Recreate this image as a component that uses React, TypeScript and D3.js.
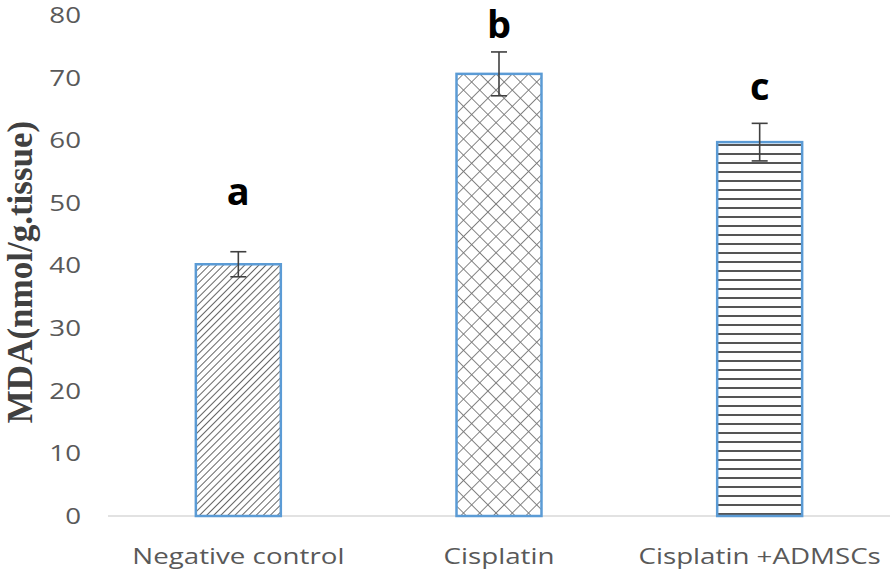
import React from "react";
import * as d3 from "d3";

const groups = ["Negative control", "Cisplatin", "Cisplatin +ADMSCs"];
const means = [40.2, 70.6, 59.7];
const errs = [2.0, 3.5, 3.0];
const letters = ["a", "b", "c"];
const letterAt = [49.7, 76.4, 66.4];
const patterns = ["diag", "cross", "horiz"];
const yTicks = [0, 10, 20, 30, 40, 50, 60, 70, 80];

const W = 896;
const H = 575;
const left = 108;
const right = 890;
const top = 15;
const bottom = 516;
const font = "Open Sans, sans-serif";

// the reference text is a bit stretched sideways
const Stretch = ({ x, y, anchor, children, ...rest }: any) => (
  <text transform={`translate(${x},${y}) scale(1.26,1)`} textAnchor={anchor} {...rest}>
    {children}
  </text>
);

export default function App() {
  const x = d3.scaleBand().domain(groups).range([left, right]).paddingInner(0.674).paddingOuter(0.337);
  const y = d3.scaleLinear().domain([0, 80]).range([bottom, top]);
  const bw = x.bandwidth();

  return (
    <svg width={W} height={H} style={{ position: "absolute", left: 0, top: 0 }}>
      <defs>
        <pattern id="diag" width="5" height="5" patternUnits="userSpaceOnUse" patternTransform="rotate(45)">
          <rect width="5" height="5" fill="#fff" />
          <line x1="0" y1="0" x2="0" y2="5" stroke="#666" strokeWidth="2" />
        </pattern>
        <pattern id="cross" width="11.5" height="11.5" patternUnits="userSpaceOnUse" patternTransform="rotate(45)">
          <rect width="11.5" height="11.5" fill="#fff" />
          <line x1="0" y1="0" x2="0" y2="11.5" stroke="#777" strokeWidth="1.8" />
          <line x1="0" y1="0" x2="11.5" y2="0" stroke="#777" strokeWidth="1.8" />
        </pattern>
        <pattern id="horiz" width="8" height="9" patternUnits="userSpaceOnUse">
          <rect width="8" height="9" fill="#fff" />
          <line x1="0" y1="1" x2="8" y2="1" stroke="#555" strokeWidth="2" />
        </pattern>
      </defs>
      <rect width={W} height={H} fill="#fff" />

      {yTicks.map(t => (
        <Stretch key={t} x={81} y={y(t)} anchor="end" dy="0.36em" fontFamily={font} fontSize={22} fill="#595959">
          {t}
        </Stretch>
      ))}

      <line x1={left} x2={right} y1={bottom} y2={bottom} stroke="#d9d9d9" strokeWidth={1.5} />

      {groups.map((g, i) => {
        const x0 = x(g) as number;
        const cx = x0 + bw / 2;
        return (
          <g key={g}>
            <rect x={x0} y={y(means[i])} width={bw} height={bottom - y(means[i])} fill={`url(#${patterns[i]})`} stroke="#5b9bd5" strokeWidth={2.5} />
            <line x1={cx} x2={cx} y1={y(means[i] + errs[i])} y2={y(means[i] - errs[i])} stroke="#404040" strokeWidth={1.6} />
            <line x1={cx - 8} x2={cx + 8} y1={y(means[i] + errs[i])} y2={y(means[i] + errs[i])} stroke="#404040" strokeWidth={1.6} />
            <line x1={cx - 8} x2={cx + 8} y1={y(means[i] - errs[i])} y2={y(means[i] - errs[i])} stroke="#404040" strokeWidth={1.6} />
            <text x={cx} y={y(letterAt[i])} textAnchor="middle" fontFamily={font} fontWeight="bold" fontSize={38} fill="#000">
              {letters[i]}
            </text>
            <Stretch x={cx} y={564} anchor="middle" fontFamily={font} fontSize={22} fill="#595959">
              {g}
            </Stretch>
          </g>
        );
      })}

      <text transform={`translate(32,${272}) rotate(-90)`} textAnchor="middle" fontFamily="Liberation Serif, serif" fontWeight="bold" fontSize={35} fill="#404040">
        MDA(nmol/g.tissue)
      </text>
    </svg>
  );
}
